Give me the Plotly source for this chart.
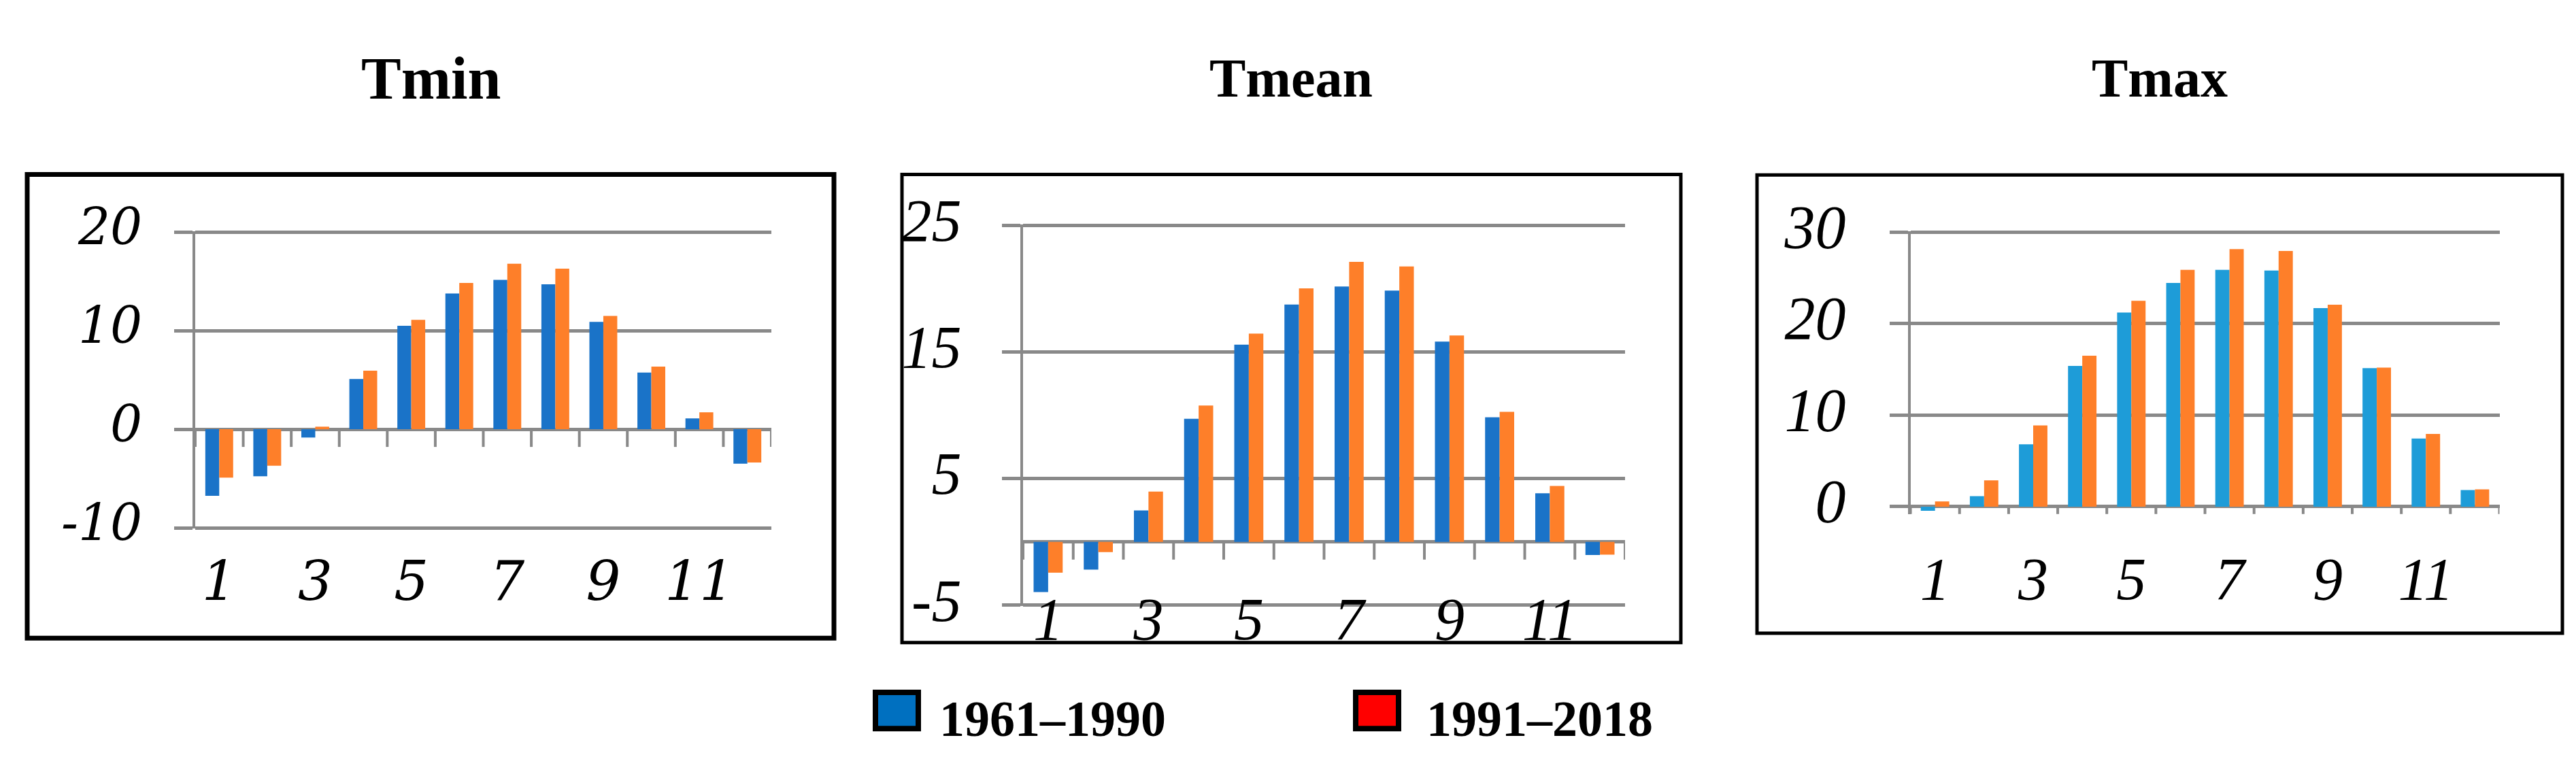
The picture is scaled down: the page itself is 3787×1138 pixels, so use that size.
import plotly.graph_objects as go

W, H = 3787, 1138

months = list(range(1, 13))
x_tick_vals = [1, 3, 5, 7, 9, 11]
x_tick_text = ["1", "3", "5", "7", "9", "11"]

series_names = ["1961–1990", "1991–2018"]

tmin_1961 = [-6.75, -4.77, -0.84, 5.1, 10.5, 13.77, 15.16, 14.7, 10.9, 5.75, 1.1, -3.5]
tmin_1991 = [-4.9, -3.7, 0.26, 5.94, 11.1, 14.84, 16.8, 16.3, 11.5, 6.36, 1.72, -3.38]

tmean_1961 = [-3.97, -2.2, 2.48, 9.73, 15.58, 18.76, 20.18, 19.85, 15.83, 9.84, 3.84, -1.04]
tmean_1991 = [-2.43, -0.81, 3.97, 10.77, 16.46, 20.03, 22.12, 21.77, 16.31, 10.27, 4.42, -1.01]

tmax_1961 = [-0.45, 1.15, 6.82, 15.38, 21.22, 24.44, 25.87, 25.8, 21.7, 15.14, 7.45, 1.82]
tmax_1991 = [0.56, 2.87, 8.88, 16.5, 22.5, 25.87, 28.15, 27.94, 22.06, 15.2, 7.94, 1.89]

tmin_ticks = [-10, 0, 10, 20]
tmean_ticks = [-5, 5, 15, 25]
tmax_ticks = [0, 10, 20, 30]

GREY = "#898989"
ORANGE = "#fe7f29"


def px_x(p):
    return p / W


def px_y(p):
    return 1 - p / H


panels = [
    dict(title="Tmin", a=tmin_1961, b=tmin_1991, ticks=tmin_ticks, rng=(-10, 20),
         blue="#1a73c8", xd=(279, 1126), yd=(303.6, 778), box=(32, 211, 1218, 955), boxw=7,
         tfont=("DejaVu Serif", 74), xfont=("DejaVu Serif", 80), ystand=32, xstand=24,
         tsize=88, tcx=625),
    dict(title="Tmean", a=tmean_1961, b=tmean_1991, ticks=tmean_ticks, rng=(-5, 25),
         blue="#1a73c8", xd=(1496, 2381), yd=(293, 902), box=(1318, 211, 2463, 962), boxw=5,
         tfont=("Liberation Serif", 88), xfont=("Liberation Serif", 88), ystand=42, xstand=-40,
         tsize=80, tcx=1890),
    dict(title="Tmax", a=tmax_1961, b=tmax_1991, ticks=tmax_ticks, rng=(0, 30),
         blue="#1e9cd8", xd=(2800.6, 3666.5), yd=(303.6, 744), box=(2575, 212, 3759, 947), boxw=5,
         tfont=("Liberation Serif", 90), xfont=("Liberation Serif", 88), ystand=46, xstand=36,
         tsize=80, tcx=3167),
]

fig = go.Figure()
shapes = []
annotations = []
boundaries = [m - 0.5 for m in months] + [months[-1] + 0.5]

for i, p in enumerate(panels, start=1):
    xa = "x" if i == 1 else f"x{i}"
    ya = "y" if i == 1 else f"y{i}"
    fig.add_trace(go.Bar(x=months, y=p["a"], name=series_names[0], marker_color=p["blue"],
                         marker_line_width=0, xaxis=xa, yaxis=ya, showlegend=False))
    fig.add_trace(go.Bar(x=months, y=p["b"], name=series_names[1], marker_color=ORANGE,
                         marker_line_width=0, xaxis=xa, yaxis=ya, showlegend=False))

    # pad the value range a little so the outer gridlines are drawn
    lo, hi = p["rng"]
    ptop, pbot = p["yd"]
    ppu = (pbot - ptop) / (hi - lo)
    lo_pad = 0.8 if i == 3 else 0.08
    hi_pad = 0.08
    rng = [lo - lo_pad, hi + hi_pad]
    dom_top = ptop - hi_pad * ppu
    dom_bot = pbot + lo_pad * ppu

    xkey = "xaxis" if i == 1 else f"xaxis{i}"
    ykey = "yaxis" if i == 1 else f"yaxis{i}"
    fig.update_layout(**{
        xkey: dict(domain=[px_x(p["xd"][0]), px_x(p["xd"][1])], range=[0.5, 12.5],
                   anchor=ya, showgrid=False, zeroline=False, showline=False, ticks="",
                   tickvals=x_tick_vals, ticktext=x_tick_text,
                   tickfont=dict(family=p["xfont"][0], size=p["xfont"][1], color="black",
                                 style="italic"),
                   ticklabelstandoff=p["xstand"], fixedrange=True),
        ykey: dict(domain=[px_y(dom_bot), px_y(dom_top)], range=rng, anchor=xa,
                   tickvals=p["ticks"], ticktext=[str(t) for t in p["ticks"]],
                   showgrid=True, gridcolor=GREY, gridwidth=5,
                   zeroline=True, zerolinecolor=GREY, zerolinewidth=5,
                   showline=True, linecolor=GREY, linewidth=4,
                   ticks="outside", ticklen=27, tickwidth=5, tickcolor=GREY,
                   tickfont=dict(family=p["tfont"][0], size=p["tfont"][1], color="black",
                                 style="italic"),
                   ticklabelstandoff=p["ystand"], ticklabelshift=-8, fixedrange=True),
    })
    for bnd in boundaries:
        shapes.append(dict(type="line", xref=xa, yref=ya, x0=bnd, x1=bnd,
                           ysizemode="pixel", yanchor=0, y0=0, y1=-26,
                           line=dict(color=GREY, width=4)))
    bx0, by0, bx1, by1 = p["box"]
    shapes.append(dict(type="rect", xref="paper", yref="paper",
                       x0=px_x(bx0), x1=px_x(bx1), y0=px_y(by1), y1=px_y(by0),
                       line=dict(color="black", width=p["boxw"]), fillcolor="rgba(0,0,0,0)"))
    annotations.append(dict(text=f"<b>{p['title']}</b>", xref="paper", yref="paper",
                            x=px_x(p["tcx"]), y=px_y(57), xanchor="center", yanchor="middle",
                            showarrow=False,
                            font=dict(family="Liberation Serif", size=p["tsize"], color="black")))

# legend (drawn manually to match the reference swatches)
legend_items = [(series_names[0], "#0070c0", 1275, 1371), (series_names[1], "#ff0000", 1981, 2087)]
for name, col, sx, tx in legend_items:
    shapes.append(dict(type="rect", xref="paper", yref="paper",
                       x0=px_x(sx + 4), x1=px_x(sx + 67), y0=px_y(1100), y1=px_y(1042),
                       line=dict(color="black", width=8), fillcolor=col))
    annotations.append(dict(text=f"<b>{name}</b>", xref="paper", yref="paper",
                            x=px_x(tx), y=px_y(1084), xanchor="left", yanchor="middle",
                            showarrow=False,
                            font=dict(family="Liberation Serif", size=74, color="black")))

fig.update_layout(width=W, height=H, autosize=False,
                  margin=dict(l=0, r=0, t=0, b=0, pad=0),
                  paper_bgcolor="white", plot_bgcolor="rgba(0,0,0,0)",
                  barmode="group", bargap=0.42, bargroupgap=0,
                  shapes=shapes, annotations=annotations, showlegend=False)

fig.write_html("out.html", config={"displayModeBar": False})
